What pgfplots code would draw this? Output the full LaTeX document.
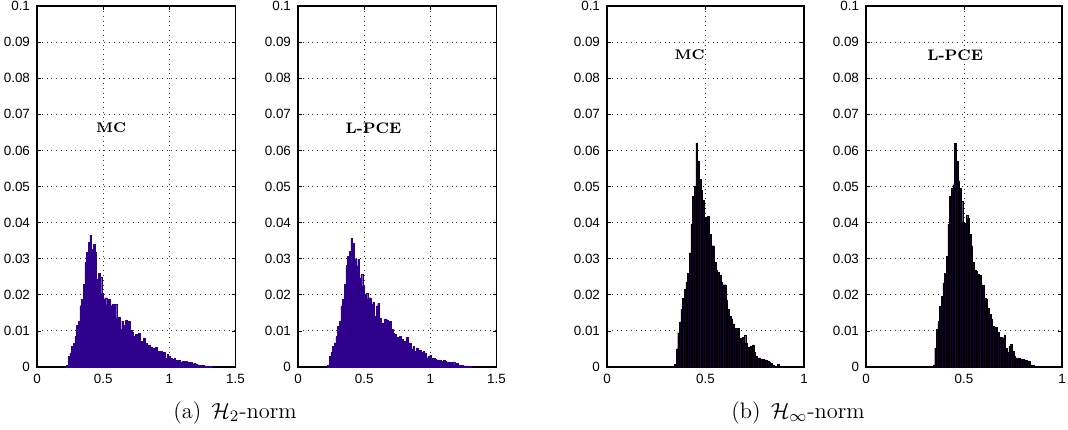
\documentclass[border=0pt]{standalone}
\usepackage{fontspec}
\usepackage{pgfplots}
\pgfplotsset{compat=1.18}
\newfontfamily\tickfont{Liberation Sans}
\definecolor{htwo}{RGB}{46,0,140}
\definecolor{hinf}{RGB}{16,2,44}

\pgfplotsset{
  histax/.style={
    scale only axis, anchor=north west,
    height=180.5pt,
    ymin=0, ymax=0.1,
    ytick={0,0.01,0.02,0.03,0.04,0.05,0.06,0.07,0.08,0.09,0.1},
    enlargelimits=false,
    grid=major,
    major grid style={black!80, dotted, line width=0.45pt},
    tick align=inside, xtick pos=both, ytick pos=both,
    major tick length=2pt,
    every tick/.style={black, line width=0.4pt},
    axis line style={line width=0.6pt},
    tick label style={font=\tickfont\fontsize{6.7}{8}\selectfont},
    /pgf/number format/assume math mode=true,
    /pgf/number format/fixed,
    /pgf/number format/precision=2,
  },
  htwoax/.style={histax, width=99.25pt, xmin=0, xmax=1.5, xtick={0,0.5,1,1.5}},
  hinfax/.style={histax, width=98.5pt, xmin=0, xmax=1, xtick={0,0.5,1}},
}
\tikzset{
  mclabel/.style={anchor=center, font=\bfseries\fontsize{7}{8}\selectfont},
  pcelabel/.style={anchor=center, font=\bfseries\fontsize{7.6}{9}\selectfont},
  subcap/.style={anchor=base, font=\fontsize{11.2}{13}\selectfont},
}

\begin{document}
\begin{tikzpicture}

% (a) H2-norm, MC
\begin{axis}[htwoax, at={(18.5pt,-3pt)}]
\addplot[ybar, bar width=0.01265, fill=htwo, draw=htwo, line width=0.1pt] table {
x y
0.229 0.0005
0.242 0.0030
0.254 0.0039
0.267 0.0057
0.280 0.0065
0.292 0.0085
0.305 0.0115
0.317 0.0127
0.330 0.0170
0.343 0.0187
0.355 0.0229
0.368 0.0291
0.381 0.0317
0.393 0.0346
0.406 0.0365
0.419 0.0326
0.431 0.0340
0.444 0.0317
0.457 0.0243
0.469 0.0259
0.482 0.0250
0.495 0.0204
0.507 0.0189
0.520 0.0192
0.533 0.0173
0.545 0.0187
0.558 0.0170
0.571 0.0173
0.583 0.0173
0.596 0.0173
0.608 0.0136
0.621 0.0139
0.634 0.0104
0.646 0.0127
0.659 0.0115
0.672 0.0130
0.684 0.0104
0.697 0.0127
0.710 0.0102
0.722 0.0096
0.735 0.0085
0.748 0.0090
0.760 0.0076
0.773 0.0093
0.786 0.0071
0.798 0.0067
0.811 0.0081
0.823 0.0065
0.836 0.0053
0.849 0.0061
0.861 0.0056
0.874 0.0048
0.887 0.0053
0.899 0.0054
0.912 0.0041
0.925 0.0044
0.937 0.0043
0.950 0.0041
0.963 0.0041
0.975 0.0024
0.988 0.0035
1.001 0.0030
1.013 0.0024
1.026 0.0022
1.039 0.0024
1.051 0.0019
1.064 0.0019
1.077 0.0019
1.089 0.0013
1.102 0.0016
1.114 0.0015
1.127 0.0015
1.140 0.0013
1.152 0.0011
1.165 0.0013
1.178 0.0009
1.190 0.0011
1.203 0.0009
1.216 0.0006
1.228 0.0005
1.241 0.0004
1.254 0.0004
1.266 0.0003
1.279 0.0003
1.292 0.0003
1.304 0.0002
1.317 0.0002
};
\node[mclabel] at (axis cs:0.56,0.0662) {MC};
\end{axis}

% (a) H2-norm, L-PCE
\begin{axis}[htwoax, at={(149pt,-3pt)}]
\addplot[ybar, bar width=0.01265, fill=htwo, draw=htwo, line width=0.1pt] table {
x y
0.229 0.0005
0.242 0.0030
0.254 0.0041
0.267 0.0057
0.280 0.0067
0.292 0.0085
0.305 0.0113
0.317 0.0127
0.330 0.0169
0.343 0.0187
0.355 0.0229
0.368 0.0281
0.381 0.0307
0.393 0.0321
0.406 0.0356
0.419 0.0344
0.431 0.0300
0.444 0.0280
0.457 0.0298
0.469 0.0247
0.482 0.0256
0.495 0.0224
0.507 0.0200
0.520 0.0204
0.533 0.0189
0.545 0.0192
0.558 0.0173
0.571 0.0180
0.583 0.0141
0.596 0.0169
0.608 0.0176
0.621 0.0136
0.634 0.0122
0.646 0.0122
0.659 0.0133
0.672 0.0131
0.684 0.0102
0.697 0.0127
0.710 0.0104
0.722 0.0094
0.735 0.0090
0.748 0.0083
0.760 0.0078
0.773 0.0085
0.786 0.0076
0.798 0.0065
0.811 0.0071
0.823 0.0083
0.836 0.0057
0.849 0.0067
0.861 0.0050
0.874 0.0057
0.887 0.0044
0.899 0.0053
0.912 0.0037
0.925 0.0046
0.937 0.0041
0.950 0.0044
0.963 0.0039
0.975 0.0025
0.988 0.0030
1.001 0.0033
1.013 0.0025
1.026 0.0025
1.039 0.0022
1.051 0.0020
1.064 0.0020
1.077 0.0019
1.089 0.0015
1.102 0.0018
1.114 0.0016
1.127 0.0014
1.140 0.0014
1.152 0.0011
1.165 0.0013
1.178 0.0014
1.190 0.0007
1.203 0.0011
1.216 0.0006
1.228 0.0005
1.241 0.0004
1.254 0.0003
1.266 0.0003
1.279 0.0003
1.292 0.0002
1.304 0.0002
};
\node[pcelabel] at (axis cs:0.57,0.0662) {L-PCE};
\end{axis}

% (b) Hinf-norm, MC
\begin{axis}[hinfax, at={(303.5pt,-3pt)}]
\addplot[ybar, bar width=0.00842, fill=hinf, draw=black, line width=0.15pt] table {
x y
0.3460 0.0007
0.3544 0.0050
0.3628 0.0095
0.3713 0.0125
0.3797 0.0160
0.3881 0.0190
0.3965 0.0215
0.4049 0.0235
0.4134 0.0260
0.4218 0.0316
0.4302 0.0395
0.4386 0.0472
0.4470 0.0502
0.4555 0.0620
0.4639 0.0571
0.4723 0.0519
0.4807 0.0490
0.4891 0.0463
0.4976 0.0415
0.5060 0.0405
0.5144 0.0418
0.5228 0.0367
0.5312 0.0336
0.5397 0.0336
0.5481 0.0290
0.5565 0.0269
0.5649 0.0262
0.5733 0.0255
0.5818 0.0235
0.5902 0.0228
0.5986 0.0228
0.6070 0.0186
0.6154 0.0160
0.6239 0.0140
0.6323 0.0132
0.6407 0.0120
0.6491 0.0108
0.6575 0.0108
0.6660 0.0108
0.6744 0.0080
0.6828 0.0080
0.6912 0.0083
0.6996 0.0087
0.7081 0.0067
0.7165 0.0055
0.7249 0.0049
0.7333 0.0058
0.7417 0.0061
0.7502 0.0040
0.7586 0.0031
0.7670 0.0025
0.7754 0.0025
0.7838 0.0022
0.7923 0.0022
0.8007 0.0020
0.8091 0.0020
0.8175 0.0017
0.8259 0.0014
0.8344 0.0010
0.8428 0.0006
0.8512 0.0003
0.8596 0.0003
0.8680 0.0007
};
\node[mclabel] at (axis cs:0.42,0.0864) {MC};
\end{axis}

% (b) Hinf-norm, L-PCE
\begin{axis}[hinfax, width=98pt, at={(433pt,-3pt)}]
\addplot[ybar, bar width=0.00842, fill=hinf, draw=black, line width=0.15pt] table {
x y
0.3460 0.0006
0.3544 0.0053
0.3628 0.0105
0.3713 0.0126
0.3797 0.0168
0.3881 0.0196
0.3965 0.0233
0.4049 0.0260
0.4134 0.0307
0.4218 0.0395
0.4302 0.0472
0.4386 0.0496
0.4470 0.0505
0.4555 0.0620
0.4639 0.0571
0.4723 0.0516
0.4807 0.0496
0.4891 0.0460
0.4976 0.0400
0.5060 0.0398
0.5144 0.0420
0.5228 0.0412
0.5312 0.0367
0.5397 0.0336
0.5481 0.0290
0.5565 0.0269
0.5649 0.0265
0.5733 0.0257
0.5818 0.0255
0.5902 0.0228
0.5986 0.0227
0.6070 0.0190
0.6154 0.0187
0.6239 0.0162
0.6323 0.0146
0.6407 0.0132
0.6491 0.0113
0.6575 0.0110
0.6660 0.0110
0.6744 0.0096
0.6828 0.0083
0.6912 0.0082
0.6996 0.0081
0.7081 0.0089
0.7165 0.0052
0.7249 0.0040
0.7333 0.0058
0.7417 0.0062
0.7502 0.0045
0.7586 0.0030
0.7670 0.0025
0.7754 0.0025
0.7838 0.0024
0.7923 0.0022
0.8007 0.0021
0.8091 0.0020
0.8175 0.0019
0.8259 0.0017
0.8344 0.0015
0.8428 0.0006
0.8512 0.0004
0.8596 0.0003
0.8680 0.0002
};
\node[pcelabel] at (axis cs:0.455,0.0864) {L-PCE};
\end{axis}

\node[subcap] at (117.5pt,-209.25pt) {(a)\hspace{0.45em}$\mathcal{H}_2$-norm};
\node[subcap] at (399pt,-209.25pt) {(b)\hspace{0.45em}$\mathcal{H}_\infty$-norm};

\pgfresetboundingbox
\useasboundingbox (0,0) rectangle (534pt,-214.5pt);
\end{tikzpicture}
\end{document}
